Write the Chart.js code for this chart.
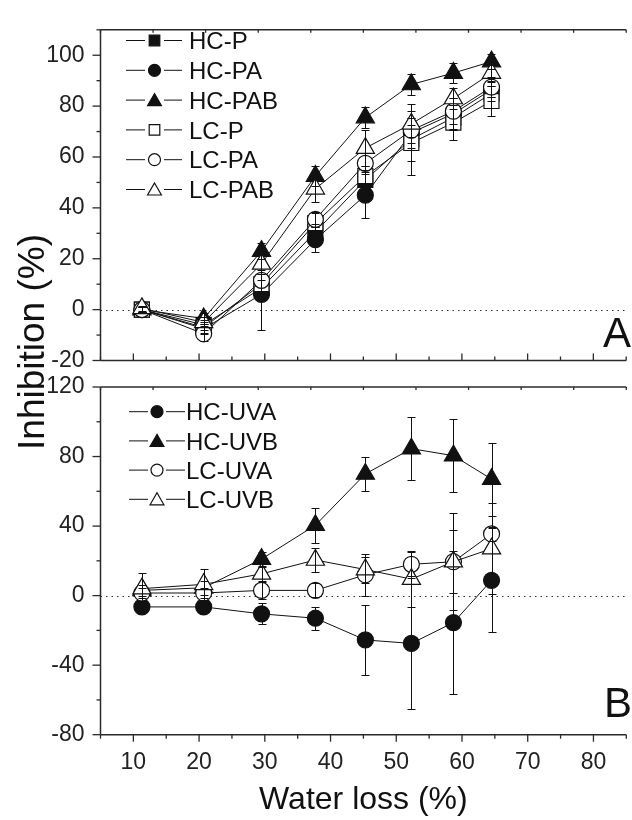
<!DOCTYPE html>
<html><head><meta charset="utf-8">
<script src="https://cdn.jsdelivr.net/npm/chart.js@4/dist/chart.umd.min.js"></script>
<style>
html,body{margin:0;padding:0;background:#fff;overflow:hidden;width:632px;height:820px}
#wrap{position:relative;width:638px;height:820px;overflow:hidden}
canvas{position:absolute;left:0;top:0}
</style></head><body>
<div id="wrap"><canvas id="cB" width="638" height="820"></canvas><canvas id="cA" width="638" height="820"></canvas></div>
<script>
// ---------- data ----------
const waterLoss = [11.3, 20.7, 29.5, 37.7, 45.3, 52.3, 58.7, 64.5];

// Panel A
const hcP      = [0, -6, 8.5, 30.5, 51, 67, 75.5, 85];
const hcPErr   = [1, 2, 3, 3, 4, 14, 5, 3];
const hcPA     = [0, -7.5, 6, 27.5, 45, 69.5, 77, 86.5];
const hcPAErr  = [1, 2, 14, 5, 9, 6, 6, 3];
const hcPAB    = [0, -3.5, 23, 52.5, 75.5, 88.5, 93, 97.5];
const hcPABErr = [1, 2, 3, 4, 4, 4, 4, 3];
const lcP      = [0, -7, 10, 34, 52.5, 65.5, 73.5, 82];
const lcPErr   = [1, 2, 4, 4, 4, 7, 7, 6];
const lcPA     = [0, -9.5, 11.5, 35.5, 57.5, 70.5, 78, 87.5];
const lcPAErr  = [1, 3, 4, 3, 4, 5, 5, 4];
const lcPAB    = [0.5, -5, 18, 47.5, 63.5, 73, 83, 93];
const lcPABErr = [1, 2, 4, 5, 7, 5, 4, 3];

// Panel B
const hcUVA    = [-6.5, -6.5, -10.5, -13, -25.5, -27.5, -15.5, 8.8];
const hcUVAErr = [2, 3, 6, 6.5, 20, 37.5, 41, 30];
const hcUVB    = [3, 4.5, 21, 40.5, 70, 84.5, 80.5, 67];
const hcUVBErr = [3, 4, 4, 10, 10, 18, 21, 21];
const lcUVA    = [1.5, 1.5, 3, 3, 12, 18, 19.5, 35.5];
const lcUVAErr = [3, 3, 5, 4, 12, 7, 28, 4];
const lcUVB    = [4, 6.5, 12.5, 20.5, 15, 9.5, 19.5, 27];
const lcUVBErr = [9, 9, 4, 7, 7.5, 16, 18, 26];

// ticks
const xTicks   = [10, 20, 30, 40, 50, 60, 70, 80];
const xMinor   = [5, 15, 25, 35, 45, 55, 65, 75, 85];
const xTopTicks= [5, 13, 21, 29, 37, 45, 53, 61, 69, 77, 85];
const yTicksA  = [-20, 0, 20, 40, 60, 80, 100];
const yMinorA  = [-10, 10, 30, 50, 70, 90, 110];
const yTicksB  = [-80, -40, 0, 40, 80, 120];
const yMinorB  = [-60, -20, 20, 60, 100];

// ---------- style ----------
const FONT = "'Liberation Sans', Arial, Helvetica, sans-serif";
const INK = '#111';
const AXIS = '#2a2a2a';
Chart.defaults.font.family = FONT;

const seriesA = [
  {label:'HC-P',   y:hcP,   err:hcPErr,   shape:'rect',     filled:true},
  {label:'HC-PA',  y:hcPA,  err:hcPAErr,  shape:'circle',   filled:true},
  {label:'HC-PAB', y:hcPAB, err:hcPABErr, shape:'triangle', filled:true},
  {label:'LC-P',   y:lcP,   err:lcPErr,   shape:'rect',     filled:false},
  {label:'LC-PA',  y:lcPA,  err:lcPAErr,  shape:'circle',   filled:false},
  {label:'LC-PAB', y:lcPAB, err:lcPABErr, shape:'triangle', filled:false}
];
const seriesB = [
  {label:'HC-UVA', y:hcUVA, err:hcUVAErr, shape:'circle',   filled:true},
  {label:'HC-UVB', y:hcUVB, err:hcUVBErr, shape:'triangle', filled:true},
  {label:'LC-UVA', y:lcUVA, err:lcUVAErr, shape:'circle',   filled:false},
  {label:'LC-UVB', y:lcUVB, err:lcUVBErr, shape:'triangle', filled:false}
];
const RAD = {rect:10.6, circle:8, triangle:10.5};

function buildDatasets(series){
  const n = series.length;
  return series.map((s, i) => ({
    label: s.label,
    data: waterLoss.map((x, k) => ({x: x, y: s.y[k]})),
    errors: s.err,
    shape: s.shape, filled: s.filled,
    order: n - i,
    borderColor: INK, borderWidth: 1,
    pointStyle: s.shape, pointRadius: RAD[s.shape],
    pointBackgroundColor: s.filled ? INK : '#fff',
    pointBorderColor: INK, pointBorderWidth: 1.2,
    tension: 0, fill: false, clip: false
  }));
}

function marker(ctx, shape, x, y, r, filled){
  ctx.beginPath();
  if (shape === 'circle') ctx.arc(x, y, r, 0, Math.PI*2);
  else if (shape === 'rect') ctx.rect(x - r, y - r, 2*r, 2*r);
  else { ctx.moveTo(x, y - r); ctx.lineTo(x + r*0.866, y + r/2); ctx.lineTo(x - r*0.866, y + r/2); ctx.closePath(); }
  ctx.fillStyle = filled ? INK : '#fff';
  ctx.fill();
  ctx.strokeStyle = INK; ctx.lineWidth = 1.2; ctx.stroke();
}

function line(ctx, x1, y1, x2, y2){ ctx.beginPath(); ctx.moveTo(x1, y1); ctx.lineTo(x2, y2); ctx.stroke(); }

const panelPlugin = {
  id: 'panel',
  beforeDatasetsDraw(chart){
    const ctx = chart.ctx, ys = chart.scales.y, a = chart.chartArea;
    const y0 = Math.round(ys.getPixelForValue(0)) + 0.5;
    ctx.save();
    ctx.strokeStyle = '#333'; ctx.lineWidth = 1.2; ctx.setLineDash([1.5, 4]);
    line(ctx, a.left, y0, a.right, y0);
    ctx.restore();
  },
  afterDatasetsDraw(chart){
    const ctx = chart.ctx, xs = chart.scales.x, ys = chart.scales.y;
    ctx.save();
    ctx.strokeStyle = INK; ctx.lineWidth = 1;
    chart.data.datasets.forEach(ds => {
      ds.data.forEach((p, i) => {
        const e = ds.errors[i];
        const px = Math.round(xs.getPixelForValue(p.x)) + 0.5;
        const y1 = Math.round(ys.getPixelForValue(p.y + e)) + 0.5;
        const y2 = Math.round(ys.getPixelForValue(p.y - e)) + 0.5;
        line(ctx, px, y1, px, y2);
        line(ctx, px - 4, y1, px + 4, y1);
        line(ctx, px - 4, y2, px + 4, y2);
      });
    });
    ctx.restore();
  },
  afterDraw(chart, args, o){
    const ctx = chart.ctx, xs = chart.scales.x, ys = chart.scales.y, a = chart.chartArea;
    ctx.save();
    ctx.strokeStyle = AXIS; ctx.lineWidth = 1.5;
    const L = a.left, T = a.top, B = a.bottom, R = a.right;
    line(ctx, L, T, R, T);
    line(ctx, L, T, L, B);
    line(ctx, L, B, R, B);
    ctx.lineWidth = 1.3;
    o.yMajor.forEach(v => { const y = ys.getPixelForValue(v); line(ctx, L - 8, y, L, y); });
    o.yMinor.forEach(v => { const y = ys.getPixelForValue(v); line(ctx, L - 4, y, L, y); });
    const dir = o.xInside ? -1 : 1;
    xTicks.forEach(v => { const x = xs.getPixelForValue(v); line(ctx, x, B, x, B + dir*7); });
    xMinor.forEach(v => { const x = xs.getPixelForValue(v); line(ctx, x, B, x, B + dir*4); });
    xTopTicks.forEach(v => { const x = xs.getPixelForValue(v); line(ctx, x, T, x, T + 3); });
    // legend
    ctx.lineWidth = 1;
    ctx.strokeStyle = INK;
    chart.data.datasets.forEach((ds, i) => {
      const y = o.legY0 + i * o.legDy;
      line(ctx, o.legX[0], y, o.legX[1], y);
      line(ctx, o.legX[3], y, o.legX[4], y);
      const r = ds.shape === 'rect' ? 5.3 : (ds.shape === 'circle' ? 6 : 8);
      marker(ctx, ds.shape, o.legX[2], ds.shape === 'triangle' ? y + 1.5 : y, r, ds.filled);
      ctx.lineWidth = 1;
      ctx.fillStyle = INK;
      ctx.font = '24px ' + FONT;
      ctx.textAlign = 'left'; ctx.textBaseline = 'alphabetic';
      ctx.fillText(ds.label, o.legText, y + 8.6);
    });
    // panel letter
    ctx.fillStyle = INK;
    ctx.font = '42px ' + FONT;
    ctx.textAlign = 'left'; ctx.textBaseline = 'alphabetic';
    ctx.fillText(o.letter, o.letterX, o.letterY);
    // titles
    if (o.titles) {
      ctx.font = '32px ' + FONT;
      ctx.textAlign = 'center';
      ctx.fillText('Water loss (%)', (L + R) / 2, 809);
      ctx.save();
      ctx.translate(43.5, 342);
      ctx.rotate(-Math.PI / 2);
      ctx.font = '37px ' + FONT;
      ctx.fillText('Inhibition (%)', 0, 0);
      ctx.restore();
    }
    ctx.restore();
  }
};

const tickFont = {family: FONT, size: 23};

const chartA = new Chart(document.getElementById('cA'), {
  type: 'line',
  data: {datasets: buildDatasets(seriesA)},
  plugins: [panelPlugin],
  options: {
    responsive: false, animation: false, events: [],
    layout: {padding: {top: 15, bottom: 459.5, left: 0, right: 0}},
    plugins: {
      legend: {display: false}, tooltip: {enabled: false},
      panel: {yMajor: yTicksA, yMinor: yMinorA, xInside: true,
              legY0: 40.5, legDy: 29.8, legX: [126, 145, 154.5, 164, 182], legText: 189,
              letter: 'A', letterX: 603, letterY: 347, titles: false}
    },
    scales: {
      x: {type: 'linear', min: 5, max: 85, display: false},
      y: {type: 'linear', min: -20, max: 110,
          grid: {display: false, drawTicks: false}, border: {display: false},
          ticks: {font: tickFont, color: '#222', padding: 16},
          afterBuildTicks: s => { s.ticks = yTicksA.map(v => ({value: v})); },
          afterFit: s => { s.width = 100.5; }}
    }
  }
});

const chartB = new Chart(document.getElementById('cB'), {
  type: 'line',
  data: {datasets: buildDatasets(seriesB)},
  plugins: [panelPlugin],
  options: {
    responsive: false, animation: false, events: [],
    layout: {padding: {top: 387, bottom: 0, left: 0, right: 0}},
    plugins: {
      legend: {display: false}, tooltip: {enabled: false},
      panel: {yMajor: yTicksB, yMinor: yMinorB, xInside: false,
              legY0: 411.7, legDy: 29.2, legX: [129, 148, 157, 166, 185], legText: 186,
              letter: 'B', letterX: 604, letterY: 717, titles: true}
    },
    scales: {
      x: {type: 'linear', min: 5, max: 85,
          grid: {display: false, drawTicks: false}, border: {display: false},
          ticks: {font: tickFont, color: '#222', padding: 14},
          afterBuildTicks: s => { s.ticks = xTicks.map(v => ({value: v})); },
          afterFit: s => { s.height = 85.3; }},
      y: {type: 'linear', min: -80, max: 120,
          grid: {display: false, drawTicks: false}, border: {display: false},
          ticks: {font: tickFont, color: '#222', padding: 16},
          afterBuildTicks: s => { s.ticks = yTicksB.map(v => ({value: v})); },
          afterFit: s => { s.width = 100.5; }}
    }
  }
});
</script>
</body></html>
